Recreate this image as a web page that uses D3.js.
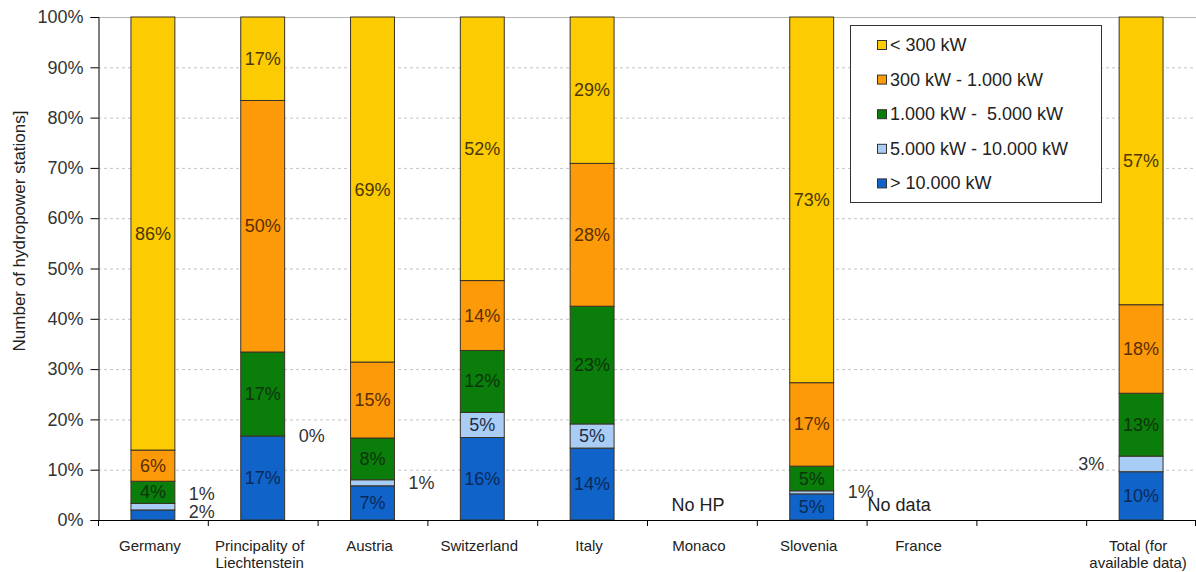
<!DOCTYPE html>
<html>
<head>
<meta charset="utf-8">
<script src="https://cdn.jsdelivr.net/npm/d3@7"></script>
<style>
  html, body { margin: 0; padding: 0; background: #fff; }
  svg { display: block; font-family: "Liberation Sans", Arial, sans-serif; }
</style>
</head>
<body>
<svg id="chart" width="1196" height="572"></svg>
<script>
// Categories along the x axis (one empty slot before the total)
const categories = ["Germany", "Principality of Liechtenstein", "Austria", "Switzerland", "Italy",
                    "Monaco", "Slovenia", "France", "", "Total (for available data)"];
const categoryLines = [["Germany"], ["Principality of", "Liechtenstein"], ["Austria"], ["Switzerland"], ["Italy"],
                       ["Monaco"], ["Slovenia"], ["France"], [""], ["Total (for", "available data)"]];
const notes = ["", "", "", "", "", "No HP", "", "No data", "", ""];

// Share of hydropower stations per capacity class, in percent (null = no data)
const seriesNames = ["> 10.000 kW", "5.000 kW - 10.000 kW", "1.000 kW -  5.000 kW", "300 kW - 1.000 kW", "< 300 kW"];
const above10000 = [2.0, 16.7, 6.8, 16.4, 14.3, null, 5.2, null, null, 9.6];
const from5000   = [1.3, 0.0, 1.2, 5.0, 4.8, null, 0.6, null, null, 3.1];
const from1000   = [4.4, 16.7, 8.3, 12.3, 23.4, null, 4.9, null, null, 12.5];
const from300    = [6.2, 50.0, 15.1, 13.9, 28.4, null, 16.6, null, null, 17.6];
const below300   = [86.1, 16.6, 68.6, 52.4, 29.1, null, 72.7, null, null, 57.2];

const yTicks = [0, 10, 20, 30, 40, 50, 60, 70, 80, 90, 100];

const seriesValues = [above10000, from5000, from1000, from300, below300];
const fills  = ["#0f63c9", "#a9cdf4", "#0a7d0a", "#fd9a0a", "#fdcb02"];
const inks   = ["#0b2a57", "#1c2c48", "#0b350b", "#5a2e00", "#4a3808"];
const legendOrder = [4, 3, 2, 1, 0];

const svg = d3.select("#chart");
const plotLeft = 98, plotRight = 1196, plotTop = 17, plotBottom = 520;

const x = d3.scaleBand().domain(d3.range(categories.length)).range([plotLeft, plotRight]).paddingInner(0).paddingOuter(0);
const y = d3.scaleLinear().domain([0, 100]).range([plotBottom, plotTop]);
const barW = x.bandwidth() * 0.4;

// Gridlines
svg.append("g").selectAll("line").data(yTicks.filter(t => t > 0)).join("line")
  .attr("x1", plotLeft).attr("x2", plotRight)
  .attr("y1", d => y(d) + 0.5).attr("y2", d => y(d) + 0.5)
  .attr("stroke", d => d === 100 ? "#b4b4b4" : "#c4c4c4")
  .attr("stroke-dasharray", d => d === 100 ? null : "3,3");

// Stacked data
const rows = categories.map((c, i) => {
  const r = { index: i, has: seriesValues.some(s => s[i] != null) };
  seriesNames.forEach((k, j) => r[k] = seriesValues[j][i] || 0);
  return r;
});
const stacked = d3.stack().keys(seriesNames)(rows);

const bars = svg.append("g");
stacked.forEach((layer, j) => {
  bars.selectAll(null).data(layer.filter(d => d.data.has)).join("rect")
    .attr("x", d => x(d.data.index) + (x.bandwidth() - barW) / 2)
    .attr("y", d => y(d[1]))
    .attr("width", barW)
    .attr("height", d => Math.max(0, y(d[0]) - y(d[1])))
    .attr("fill", fills[j])
    .attr("stroke", "#3a3224")
    .attr("stroke-width", 1);
});

// Value labels: inside when the segment is tall enough, beside the bar otherwise
const fmt = v => Math.round(v) + "%";
const labels = svg.append("g").attr("font-size", 18);
rows.filter(r => r.has).forEach(r => {
  const i = r.index;
  const outside = [];
  stacked.forEach((layer, j) => {
    const d = layer[i];
    const v = d[1] - d[0];
    const cy = (y(d[0]) + y(d[1])) / 2;
    if (v >= 4) {
      labels.append("text")
        .attr("x", x(i) + x.bandwidth() / 2).attr("y", cy)
        .attr("text-anchor", "middle").attr("dominant-baseline", "central")
        .attr("fill", inks[j]).text(fmt(v));
    } else {
      outside.push({ v, cy });
    }
  });
  // keep stacked outside labels from overlapping
  if (outside.length > 1) outside[0].cy -= 3;
  for (let k = 1; k < outside.length; k++) {
    if (outside[k - 1].cy - outside[k].cy < 18) outside[k].cy = outside[k - 1].cy - 18;
  }
  const isTotal = i === categories.length - 1;
  const ox = isTotal ? x(i) + (x.bandwidth() - barW) / 2 - 28 : x(i) + (x.bandwidth() + barW) / 2 + 27;
  outside.forEach(o => {
    labels.append("text")
      .attr("x", ox).attr("y", o.cy)
      .attr("text-anchor", "middle").attr("dominant-baseline", "central")
      .attr("fill", "#333").text(fmt(o.v));
  });
});

// Notes for countries without bars
notes.forEach((n, i) => {
  if (!n) return;
  const t = svg.append("text").attr("font-size", 18).attr("fill", "#222")
    .attr("y", 511).text(n);
  if (n === "No HP") t.attr("x", x(i) + x.bandwidth() / 2 - 4).attr("text-anchor", "middle");
  else t.attr("x", x(i) + 1).attr("text-anchor", "start");
});

// Y axis
const yAxis = svg.append("g").attr("transform", `translate(${plotLeft + 0.5},0)`)
  .call(d3.axisLeft(y).tickValues(yTicks).tickSize(8).tickPadding(7).tickFormat(d => d + "%"));
yAxis.select(".domain").attr("stroke", "#000");
yAxis.selectAll(".tick line").attr("stroke", "#000");
yAxis.selectAll(".tick text").attr("font-size", 18).attr("fill", "#333").attr("font-family", null);

// X axis with ticks between categories
const xAxis = svg.append("g");
xAxis.append("line").attr("x1", plotLeft).attr("x2", plotRight).attr("y1", plotBottom + 0.5).attr("y2", plotBottom + 0.5).attr("stroke", "#000");
xAxis.selectAll(".xt").data(d3.range(categories.length + 1)).join("line").attr("class", "xt")
  .attr("x1", d => Math.min(plotRight - 1, plotLeft + d * x.step()) + 0.5)
  .attr("x2", d => Math.min(plotRight - 1, plotLeft + d * x.step()) + 0.5)
  .attr("y1", plotBottom).attr("y2", plotBottom + 6).attr("stroke", "#000");
categoryLines.forEach((lines, i) => {
  const t = xAxis.append("text").attr("font-size", 15).attr("fill", "#222").attr("text-anchor", "middle");
  lines.forEach((ln, k) => {
    t.append("tspan").attr("x", x(i) + x.bandwidth() / 2 - 3).attr("y", 551 + k * 17).text(ln);
  });
});

// Y axis title
svg.append("text")
  .attr("transform", "translate(25,231) rotate(-90)")
  .attr("text-anchor", "middle").attr("font-size", 17).attr("fill", "#222")
  .text("Number of hydropower stations]");

// Legend
const legend = svg.append("g");
legend.append("rect").attr("x", 850.5).attr("y", 25.5).attr("width", 251).attr("height", 177)
  .attr("fill", "#fff").attr("stroke", "#333");
legendOrder.forEach((j, k) => {
  const cy = 45 + k * 34.6;
  legend.append("rect").attr("x", 877.5).attr("y", cy - 4.5).attr("width", 9).attr("height", 9)
    .attr("fill", fills[j]).attr("stroke", "#333");
  legend.append("text").attr("x", 890).attr("y", cy).attr("dominant-baseline", "central")
    .attr("font-size", 18).attr("fill", "#222").style("white-space", "pre")
    .text(seriesNames[j]);
});
</script>
</body>
</html>
